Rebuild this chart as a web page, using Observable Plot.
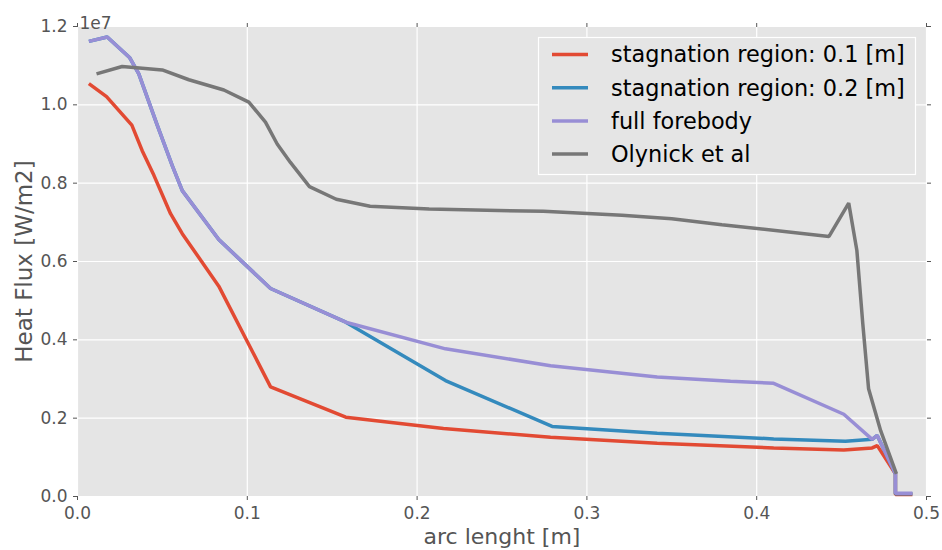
<!DOCTYPE html>
<html>
<head>
<meta charset="utf-8">
<script src="https://cdn.jsdelivr.net/npm/d3@7"></script>
<script src="https://cdn.jsdelivr.net/npm/@observablehq/plot@0.6"></script>
<style>
  html, body { margin: 0; padding: 0; background: #fff; }
  #chart { position: relative; width: 942px; height: 550px; }
</style>
</head>
<body>
<div id="chart"></div>
<script>
// Heat flux values in units of 1e7 W/m2, arc length in m
const seriesNames = ["stagnation region: 0.1 [m]", "stagnation region: 0.2 [m]", "full forebody", "Olynick et al"];
const seriesColors = ["#E24A33", "#348ABD", "#988ED5", "#777777"];

const stag01X = [0.0067, 0.0171, 0.0320, 0.0381, 0.0450, 0.0548, 0.0617, 0.0832, 0.1137, 0.158, 0.2155, 0.2786, 0.3414, 0.410, 0.4513, 0.468, 0.471, 0.4817, 0.4817, 0.4917];
const stag01Y = [1.054, 1.021, 0.948, 0.883, 0.820, 0.722, 0.671, 0.537, 0.280, 0.2025, 0.1735, 0.151, 0.136, 0.124, 0.119, 0.124, 0.130, 0.058, 0.005, 0.005];

const stag02X = [0.0067, 0.0175, 0.0308, 0.0361, 0.0469, 0.0558, 0.0617, 0.0832, 0.1137, 0.158, 0.2167, 0.2795, 0.3414, 0.410, 0.4523, 0.468, 0.471, 0.4817, 0.4817, 0.4917];
const stag02Y = [1.162, 1.173, 1.120, 1.079, 0.949, 0.845, 0.781, 0.656, 0.531, 0.445, 0.296, 0.179, 0.1616, 0.147, 0.141, 0.146, 0.156, 0.058, 0.007, 0.007];

const forebodyX = [0.0067, 0.0175, 0.0308, 0.0361, 0.0469, 0.0558, 0.0617, 0.0832, 0.1137, 0.158, 0.2167, 0.2786, 0.3414, 0.3846, 0.410, 0.4513, 0.468, 0.471, 0.4817, 0.4817, 0.4917];
const forebodyY = [1.162, 1.173, 1.120, 1.079, 0.949, 0.845, 0.781, 0.656, 0.531, 0.445, 0.377, 0.334, 0.305, 0.294, 0.289, 0.210, 0.146, 0.156, 0.058, 0.008, 0.008];

const olynickX = [0.0112, 0.0263, 0.0499, 0.0656, 0.0862, 0.1009, 0.1107, 0.1176, 0.1254, 0.1366, 0.1524, 0.1723, 0.2071, 0.2744, 0.3206, 0.350, 0.3795, 0.4426, 0.4542, 0.4590, 0.4625, 0.4659, 0.473, 0.4823];
const olynickY = [1.079, 1.098, 1.089, 1.064, 1.038, 1.007, 0.956, 0.900, 0.853, 0.791, 0.759, 0.741, 0.734, 0.728, 0.718, 0.709, 0.694, 0.664, 0.749, 0.628, 0.440, 0.275, 0.168, 0.058];

const xTicks = [0.0, 0.1, 0.2, 0.3, 0.4, 0.5];
const yTicks = [0.0, 0.2, 0.4, 0.6, 0.8, 1.0, 1.2];

const allX = [stag01X, stag02X, forebodyX, olynickX];
const allY = [stag01Y, stag02Y, forebodyY, olynickY];
const rows = [];
allX.forEach((xs, s) => xs.forEach((x, i) => rows.push({series: seriesNames[s], x, y: allY[s][i]})));

const fmt = d3.format(".1f");
const tickColor = "#555555";

const plot = Plot.plot({
  width: 942,
  height: 550,
  marginLeft: 77,
  marginRight: 16,
  marginTop: 26,
  marginBottom: 54,
  style: {fontFamily: "DejaVu Sans", fontSize: "16px", color: tickColor, background: "white"},
  x: {domain: [0, 0.5]},
  y: {domain: [0, 1.2]},
  color: {domain: seriesNames, range: seriesColors},
  marks: [
    Plot.frame({fill: "#E5E5E5", stroke: "none"}),
    Plot.gridX(xTicks, {stroke: "white", strokeOpacity: 1, strokeWidth: 1.2}),
    Plot.gridY(yTicks, {stroke: "white", strokeOpacity: 1, strokeWidth: 1.2}),
    Plot.axisX(xTicks, {tickSize: 4, tickPadding: 6, tickFormat: fmt, stroke: tickColor, fill: tickColor, fontSize: 17,
      label: "arc lenght [m]", labelAnchor: "center", labelArrow: "none", labelOffset: 47}),
    Plot.axisX(xTicks, {anchor: "top", tickSize: 4, tickFormat: () => "", stroke: tickColor, label: null}),
    Plot.axisY(yTicks, {tickSize: 4, tickPadding: 6, tickFormat: fmt, stroke: tickColor, fill: tickColor, fontSize: 17,
      label: "Heat Flux [W/m2]", labelAnchor: "center", labelArrow: "none", labelOffset: 62}),
    Plot.axisY(yTicks, {anchor: "right", tickSize: 4, tickFormat: () => "", stroke: tickColor, label: null}),
    Plot.line(rows, {x: "x", y: "y", z: "series", stroke: "series", strokeWidth: 3.5, strokeLinejoin: "miter", strokeLinecap: "butt"}),
    Plot.text(["1e7"], {frameAnchor: "top-left", dy: -10, dx: 2, textAnchor: "start", fill: tickColor, fontSize: 17})
  ]
});

const root = document.getElementById("chart");
root.appendChild(plot);

const svg = d3.select(plot);
svg.selectAll("g[aria-label='x-axis label'] text").attr("font-size", 22).attr("fill", tickColor);
svg.selectAll("g[aria-label='y-axis label'] text").attr("font-size", 23).attr("fill", tickColor);

// legend drawn inside the plot area (upper right), as in the reference
const lg = svg.append("g").attr("font-family", "DejaVu Sans").attr("text-anchor", "start");
lg.append("rect").attr("x", 538.5).attr("y", 37.5).attr("width", 377).attr("height", 137)
  .attr("fill", "#E5E5E5").attr("stroke", "#FFFFFF").attr("stroke-width", 1.2);
seriesNames.forEach((name, i) => {
  const cy = 54.5 + i * 33.2;
  lg.append("line").attr("x1", 552).attr("x2", 588).attr("y1", cy).attr("y2", cy)
    .attr("stroke", seriesColors[i]).attr("stroke-width", 3.5);
  lg.append("text").attr("x", 611).attr("y", cy).attr("dy", "0.35em").attr("text-anchor", "start")
    .attr("font-size", 22.4).attr("fill", "#000").text(name);
});
</script>
</body>
</html>
